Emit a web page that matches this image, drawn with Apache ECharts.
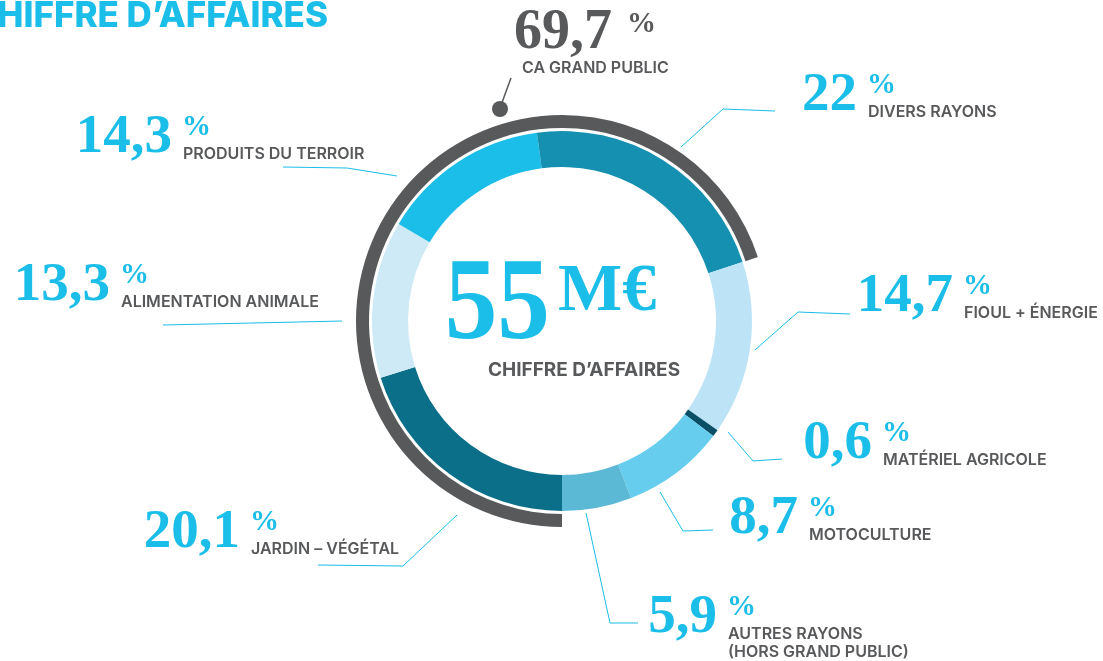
<!DOCTYPE html>
<html lang="fr">
<head>
<meta charset="utf-8">
<title>Chiffre d’affaires</title>
<script src="https://cdn.jsdelivr.net/npm/echarts@6/dist/echarts.min.js"></script>
<style>
  html, body { margin: 0; padding: 0; background: #ffffff; }
  #chart { width: 1103px; height: 661px; }
</style>
</head>
<body>
<div id="chart"></div>
<script>
// Répartition du chiffre d'affaires par rayon (en %), dans l'ordre horaire depuis le bas
const categories = [
  'JARDIN – VÉGÉTAL',
  'ALIMENTATION ANIMALE',
  'PRODUITS DU TERROIR',
  'DIVERS RAYONS',
  'FIOUL + ÉNERGIE',
  'MATÉRIEL AGRICOLE',
  'MOTOCULTURE',
  'AUTRES RAYONS\n(HORS GRAND PUBLIC)'
];
const shares = [20.1, 13.3, 14.3, 22, 14.7, 0.6, 8.7, 5.9];
// Rayons comptés dans le CA grand public
const grandPublic = [true, true, true, true, false, false, false, false];
const grandPublicShare = 69.7;
const grandPublicLabel = 'CA GRAND PUBLIC';
const turnover = 55;
const turnoverUnit = 'M€';
const turnoverLabel = 'CHIFFRE D’AFFAIRES';
const title = 'CHIFFRE D’AFFAIRES';

// Couleurs des segments
const colors = ['#0c6f89', '#cdeaf6', '#1bbde9', '#1590b0', '#bce4f6', '#0b4f66', '#66cdee', '#5bb9d6'];
const CYAN = '#1bbde9';
const GREY = '#58595b';

// Position des étiquettes : x = début du « % », y = centre vertical du nombre
const labelAnchors = [
  { x: 250, y: 533 },
  { x: 120, y: 286 },
  { x: 182, y: 138 },
  { x: 867, y: 96 },
  { x: 963, y: 297 },
  { x: 882, y: 444 },
  { x: 808, y: 519 },
  { x: 727, y: 618 }
];
// Traits de rappel
const leaderLines = [
  [[457, 515], [403, 566], [318, 565]],
  [[342, 321], [163, 325]],
  [[397, 176], [347, 168], [283, 167]],
  [[681, 147], [723, 109], [775, 111]],
  [[755, 350], [798, 312], [850, 314]],
  [[728, 432], [753, 461], [782, 459]],
  [[660, 492], [683, 531], [713, 530]],
  [[586, 513], [610, 623], [638, 623]]
];

const fmt = v => String(v).replace('.', ',');
const SERIF = '"Liberation Serif", "DejaVu Serif", serif';
const SANS = 'Inter, "Noto Sans", sans-serif';

const CX = 562, CY = 321;

// Part hors grand public (somme des rayons non comptés)
const otherShare = shares.reduce((s, v, i) => grandPublic[i] ? s : s + v, 0);

const graphics = [];

// Titre (coupé à gauche)
graphics.push({
  type: 'text', x: 328, y: 16, silent: true,
  style: { text: title, font: `800 35px ${SANS}`, fill: CYAN, textAlign: 'right', textVerticalAlign: 'middle' }
});

// Centre : montant total
graphics.push({
  type: 'text', x: 550, y: 308, scaleX: 0.9, originX: 0, originY: 0, silent: true,
  style: { text: String(turnover), font: `bold 117px ${SERIF}`, fill: CYAN, textAlign: 'right', textVerticalAlign: 'middle' }
});
graphics.push({
  type: 'text', x: 558, y: 292, silent: true,
  style: { text: turnoverUnit, font: `bold 68px ${SERIF}`, fill: CYAN, textAlign: 'left', textVerticalAlign: 'middle' }
});
graphics.push({
  type: 'text', x: 584, y: 370, silent: true,
  style: { text: turnoverLabel, font: `700 19px ${SANS}`, fill: GREY, textAlign: 'center', textVerticalAlign: 'middle' }
});

// Étiquette du CA grand public avec son repère
graphics.push({
  type: 'polyline', silent: true,
  shape: { points: [[500, 108], [511, 78]] },
  style: { stroke: GREY, lineWidth: 1.5, fill: null }
});
graphics.push({
  type: 'circle', silent: true,
  shape: { cx: 500, cy: 109, r: 8 },
  style: { fill: GREY }
});
graphics.push({
  type: 'text', x: 612, y: 34, silent: true,
  style: { text: fmt(grandPublicShare), font: `bold 56px ${SERIF}`, fill: GREY, textAlign: 'right', textVerticalAlign: 'middle' }
});
graphics.push({
  type: 'text', x: 627, y: 25, silent: true,
  style: { text: '%', font: `bold 29px ${SERIF}`, fill: GREY, textAlign: 'left', textVerticalAlign: 'middle' }
});
graphics.push({
  type: 'text', x: 522, y: 68, silent: true,
  style: { text: grandPublicLabel, font: `600 16px ${SANS}`, fill: GREY, textAlign: 'left', textVerticalAlign: 'middle' }
});

// Étiquettes des rayons
shares.forEach((v, i) => {
  const a = labelAnchors[i];
  graphics.push({
    type: 'polyline', silent: true,
    shape: { points: leaderLines[i] },
    style: { stroke: CYAN, lineWidth: 1, fill: null }
  });
  graphics.push({
    type: 'text', x: a.x - 10, y: a.y, silent: true,
    style: { text: fmt(v), font: `bold 55px ${SERIF}`, fill: CYAN, textAlign: 'right', textVerticalAlign: 'middle' }
  });
  graphics.push({
    type: 'text', x: a.x, y: a.y - 10, silent: true,
    style: { text: '%', font: `bold 29px ${SERIF}`, fill: CYAN, textAlign: 'left', textVerticalAlign: 'middle' }
  });
  graphics.push({
    type: 'text', x: a.x + 1, y: a.y + 7, silent: true,
    style: { text: categories[i], font: `600 16px ${SANS}`, fill: GREY, textAlign: 'left', textVerticalAlign: 'top', lineHeight: 18 }
  });
});

const chart = echarts.init(document.getElementById('chart'), null, { renderer: 'canvas' });
chart.setOption({
  animation: false,
  backgroundColor: '#ffffff',
  series: [
    {
      type: 'pie',
      center: [CX, CY],
      radius: [154, 190],
      startAngle: 270,
      clockwise: true,
      silent: true,
      avoidLabelOverlap: false,
      label: { show: false },
      labelLine: { show: false },
      emphasis: { disabled: true },
      itemStyle: { borderWidth: 0 },
      data: shares.map((v, i) => ({ name: categories[i], value: v, itemStyle: { color: colors[i] } }))
    },
    {
      // Arc extérieur : part du CA grand public
      type: 'pie',
      center: [CX, CY],
      radius: [193, 206],
      startAngle: 270,
      clockwise: true,
      silent: true,
      avoidLabelOverlap: false,
      label: { show: false },
      labelLine: { show: false },
      emphasis: { disabled: true },
      itemStyle: { borderWidth: 0 },
      data: [
        { name: grandPublicLabel, value: grandPublicShare, itemStyle: { color: GREY } },
        { name: 'hors grand public', value: otherShare, itemStyle: { color: 'rgba(0,0,0,0)' } }
      ]
    }
  ],
  graphic: { elements: graphics }
});
</script>
</body>
</html>
